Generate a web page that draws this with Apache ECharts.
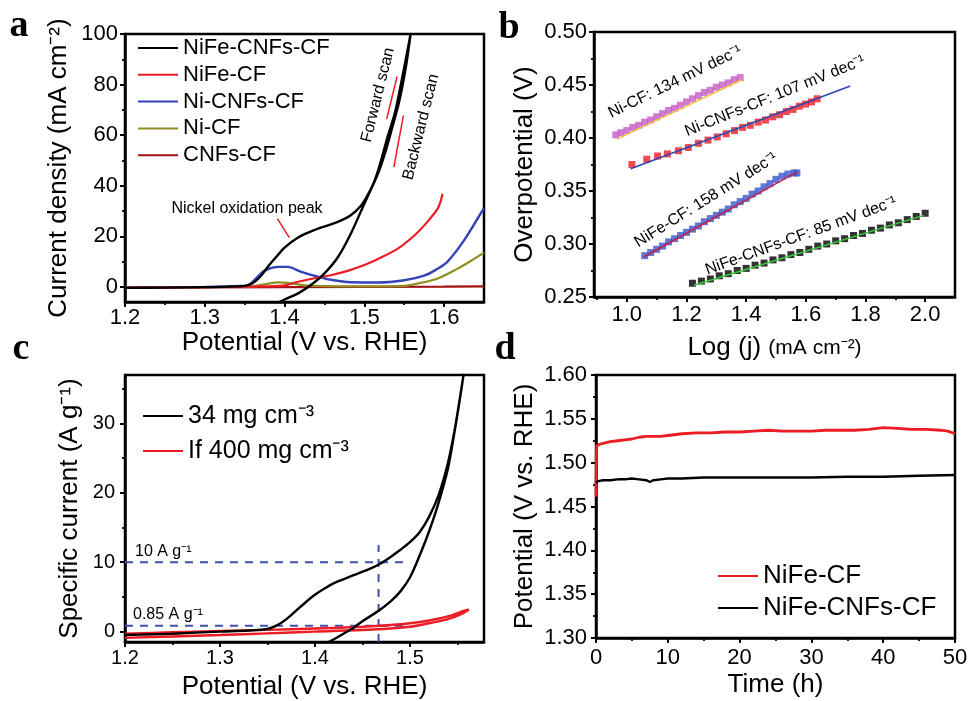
<!DOCTYPE html>
<html>
<head>
<meta charset="utf-8">
<script src="https://cdn.jsdelivr.net/npm/echarts@6/dist/echarts.min.js"></script>
<style>
html, body { margin: 0; padding: 0; background: #fff; }
#main { width: 968px; height: 701px; }
</style>
</head>
<body>
<div id="main"></div>
<script>
// ---------- panel a : polarisation curves [E (V vs RHE), j (mA cm-2)]
var aNiFeCnfs = [
    [1.200, -0.4], [1.250, -0.3], [1.300, -0.1], [1.330, 0.1], [1.350, 0.4], [1.360, 1.4],
    [1.370, 4.2], [1.380, 8.3], [1.390, 12.0], [1.400, 15.5], [1.417, 19.5], [1.437, 22.4],
    [1.458, 24.7], [1.471, 26.3], [1.483, 28.3], [1.496, 32.2], [1.504, 36.2], [1.513, 42.1],
    [1.521, 50.0], [1.529, 59.2], [1.538, 68.4], [1.546, 80.3], [1.554, 93.4], [1.558, 100],
    // backward scan
    [1.552, 86.8], [1.544, 73.7], [1.535, 63.0], [1.527, 54.0], [1.517, 44.7], [1.500, 32.9],
    [1.483, 21.0], [1.467, 11.8], [1.450, 5.3], [1.433, 0.7], [1.417, -2.6], [1.400, -5.0], [1.392, -6.2]
];
var aNiFe = [
    [1.200, -0.3], [1.300, -0.1], [1.360, 0.1], [1.400, 0.6], [1.417, 2.0], [1.442, 3.7],
    [1.458, 4.6], [1.479, 6.3], [1.500, 8.6], [1.521, 11.6], [1.542, 15.1], [1.563, 20.4],
    [1.579, 25.7], [1.592, 30.9], [1.596, 34.2], [1.598, 36.8]
];
var aNiCnfs = [
    [1.200, -0.2], [1.300, 0.0], [1.345, 0.3], [1.354, 0.6], [1.362, 2.6], [1.375, 6.4],
    [1.392, 7.9], [1.404, 7.9], [1.421, 5.9], [1.442, 4.0], [1.458, 2.8], [1.483, 1.8],
    [1.517, 1.7], [1.550, 2.6], [1.575, 4.4], [1.590, 6.8], [1.604, 9.9], [1.625, 18.4],
    [1.647, 29.6], [1.650, 31.0]
];
var aNi = [
    [1.200, -0.3], [1.300, -0.1], [1.360, 0.2], [1.375, 1.0], [1.392, 1.8], [1.404, 1.6],
    [1.425, 0.6], [1.450, 0.3], [1.500, 0.2], [1.550, 0.4], [1.567, 1.3], [1.592, 3.3],
    [1.617, 7.2], [1.635, 10.5], [1.650, 13.5]
];
var aCnfs = [[1.20, -0.3], [1.30, -0.2], [1.40, -0.1], [1.50, 0.0], [1.60, 0.1], [1.65, 0.2]];
// small red pointer strokes
var aPeakPointer = [[1.391, 27.0], [1.406, 19.5]];
var aFwdMark = [[1.528, 66.4], [1.541, 83.2]];
var aBwdMark = [[1.549, 67.8], [1.537, 47.4]];
var aXTicks = [1.2, 1.3, 1.4, 1.5, 1.6];
var aXMinor = [1.25, 1.35, 1.45, 1.55];
var aYTicks = [0, 20, 40, 60, 80, 100];
var aYMinor = [10, 30, 50, 70, 90];

// ---------- panel b : Tafel plots [log j, overpotential V]
var bNiCf = [
    [0.963, 0.403], [0.980, 0.405], [1.000, 0.407], [1.020, 0.410], [1.040, 0.412], [1.060, 0.415],
    [1.080, 0.417], [1.100, 0.420], [1.120, 0.423], [1.140, 0.426], [1.160, 0.428], [1.180, 0.431],
    [1.200, 0.434], [1.220, 0.437], [1.240, 0.440], [1.260, 0.443], [1.280, 0.445], [1.300, 0.448],
    [1.320, 0.450], [1.340, 0.452], [1.360, 0.455], [1.380, 0.457]
];
var bNiCnfs = [
    [1.017, 0.375], [1.067, 0.380], [1.103, 0.383], [1.136, 0.385], [1.173, 0.388], [1.206, 0.391],
    [1.240, 0.395], [1.272, 0.398], [1.303, 0.401], [1.333, 0.404], [1.361, 0.407], [1.388, 0.410],
    [1.414, 0.412], [1.440, 0.415], [1.465, 0.417], [1.489, 0.420], [1.512, 0.422], [1.535, 0.425],
    [1.557, 0.427], [1.578, 0.430], [1.599, 0.432], [1.619, 0.434], [1.638, 0.437]
];
var bNiFeCf = [
    [1.06, 0.289], [1.08, 0.292], [1.10, 0.295], [1.12, 0.298], [1.14, 0.302], [1.16, 0.305],
    [1.18, 0.308], [1.20, 0.311], [1.22, 0.314], [1.24, 0.317], [1.26, 0.321], [1.28, 0.324],
    [1.30, 0.327], [1.32, 0.330], [1.34, 0.333], [1.36, 0.337], [1.38, 0.340], [1.40, 0.343],
    [1.42, 0.347], [1.44, 0.350], [1.46, 0.354], [1.48, 0.357], [1.50, 0.361], [1.52, 0.364],
    [1.54, 0.366], [1.56, 0.367], [1.57, 0.367]
];
var bNiFeCnfs = [
    [1.22, 0.263], [1.25, 0.265], [1.28, 0.267], [1.31, 0.270], [1.34, 0.272], [1.37, 0.275],
    [1.40, 0.277], [1.43, 0.280], [1.46, 0.282], [1.49, 0.285], [1.52, 0.287], [1.55, 0.290],
    [1.58, 0.292], [1.61, 0.295], [1.64, 0.298], [1.67, 0.300], [1.70, 0.303], [1.73, 0.305],
    [1.76, 0.308], [1.79, 0.310], [1.82, 0.313], [1.85, 0.315], [1.88, 0.318], [1.91, 0.320],
    [1.94, 0.323], [1.97, 0.326], [2.00, 0.329]
];
// linear fits
var bFitNiCf = [[0.967, 0.399], [1.385, 0.455]];
var bFitNiCnfs = [[1.013, 0.371], [1.749, 0.449]];
var bFitNiFeCf = [[1.058, 0.288], [1.571, 0.368]];
var bFitNiFeCnfs = [[1.225, 0.261], [1.995, 0.327]];
var bXTicks = [1.0, 1.2, 1.4, 1.6, 1.8, 2.0];
var bXMinor = [0.9, 1.1, 1.3, 1.5, 1.7, 1.9];
var bYTicks = [0.25, 0.30, 0.35, 0.40, 0.45, 0.50];
var bYMinor = [0.275, 0.325, 0.375, 0.425, 0.475];

// ---------- panel c : specific current [E (V vs RHE), A g-1]
var c34 = [
    [1.200, -0.5], [1.250, -0.3], [1.300, 0.0], [1.330, 0.15], [1.350, 0.4], [1.360, 0.9],
    [1.370, 1.8], [1.380, 3.0], [1.390, 4.2], [1.400, 5.3], [1.410, 6.2], [1.420, 7.0],
    [1.440, 8.1], [1.460, 9.2], [1.470, 9.9], [1.480, 10.8], [1.490, 11.8], [1.500, 12.9],
    [1.510, 14.3], [1.520, 16.5], [1.530, 19.6], [1.540, 24.3], [1.547, 29.0], [1.553, 34.0], [1.557, 37.5],
    // backward
    [1.552, 33.0], [1.546, 28.0], [1.540, 23.5], [1.530, 18.5], [1.520, 14.4], [1.510, 10.9],
    [1.500, 7.8], [1.490, 5.8], [1.480, 4.4], [1.467, 3.0], [1.450, 1.5], [1.440, 0.5],
    [1.430, -0.3], [1.420, -1.1], [1.410, -1.8]
];
var c400 = [
    [1.200, -0.3], [1.250, -0.1], [1.300, 0.1], [1.350, 0.25], [1.400, 0.45], [1.450, 0.7],
    [1.480, 0.95], [1.500, 1.2], [1.520, 1.6], [1.540, 2.2], [1.555, 2.9], [1.562, 3.2],
    [1.555, 2.6], [1.540, 1.8], [1.520, 1.2], [1.500, 0.7], [1.460, 0.3], [1.400, 0.0],
    [1.350, -0.25], [1.300, -0.5], [1.250, -0.7], [1.200, -0.9]
];
var cGuide10 = [[1.2, 10], [1.494, 10]];
var cGuide085 = [[1.2, 0.85], [1.494, 0.85]];
var cGuideE = [[1.467, -1.5], [1.467, 12.5]];
var cXTicks = [1.2, 1.3, 1.4, 1.5];
var cXMinor = [1.25, 1.35, 1.45, 1.55];
var cYTicks = [0, 10, 20, 30];
var cYMinor = [5, 15, 25, 35];

// ---------- panel d : chronopotentiometry [t (h), E (V vs RHE)]
var dNiFe = [
    [0, 1.461], [0.05, 1.519], [0.5, 1.521], [1, 1.522], [2, 1.524], [3, 1.525], [4, 1.526],
    [5, 1.527], [6, 1.529], [7, 1.530], [8, 1.530], [9, 1.530], [10, 1.531], [12, 1.533],
    [14, 1.534], [16, 1.534], [18, 1.535], [20, 1.535], [22, 1.536], [24, 1.537], [26, 1.536],
    [28, 1.536], [30, 1.536], [32, 1.537], [34, 1.537], [36, 1.537], [38, 1.538], [40, 1.540],
    [42, 1.539], [44, 1.538], [46, 1.538], [48, 1.537], [49, 1.536], [50, 1.533]
];
var dNiFeCnfs = [
    [0, 1.477], [0.3, 1.479], [1, 1.480], [2, 1.480], [3, 1.481], [4, 1.481], [5, 1.482],
    [6, 1.481], [7, 1.480], [7.5, 1.478], [8, 1.480], [9, 1.481], [10, 1.482], [12, 1.482],
    [15, 1.483], [18, 1.483], [20, 1.483], [25, 1.483], [30, 1.483], [35, 1.484], [40, 1.484],
    [45, 1.485], [50, 1.486]
];
var dXTicks = [0, 10, 20, 30, 40, 50];
var dXMinor = [5, 15, 25, 35, 45];
var dYTicks = [1.30, 1.35, 1.40, 1.45, 1.50, 1.55, 1.60];
var dYMinor = [1.325, 1.375, 1.425, 1.475, 1.525, 1.575];

var FONT = '"Liberation Sans", Arial, sans-serif';
var SERIF = '"Liberation Serif", "Times New Roman", serif';

function mainAxis(dim, grid, min, max, ticks, digits, name, gap, size, margin) {
    return {
        type: 'value', gridIndex: grid, min: min, max: max,
        position: dim === 'x' ? 'bottom' : 'left',
        name: name, nameLocation: 'middle', nameGap: gap,
        nameTextStyle: { fontFamily: FONT, fontSize: 26, color: '#000' },
        axisLine: { show: true, onZero: false, lineStyle: { color: '#000', width: 2.5 } },
        axisTick: { show: true, customValues: ticks, length: 5, lineStyle: { color: '#000', width: 2 } },
        axisLabel: {
            show: true, customValues: ticks, margin: margin, fontFamily: FONT, fontSize: size, color: '#000',
            formatter: function (v) { return v.toFixed(digits); }
        },
        splitLine: { show: false }
    };
}
function minorAxis(dim, grid, min, max, ticks) {
    return {
        type: 'value', gridIndex: grid, min: min, max: max,
        position: dim === 'x' ? 'bottom' : 'left',
        axisLine: { show: false, onZero: false },
        axisTick: { show: true, customValues: ticks, length: 3, lineStyle: { color: '#000', width: 1.8 } },
        axisLabel: { show: false },
        splitLine: { show: false }
    };
}
function curve(name, data, color, idx, width, smooth) {
    return {
        type: 'line', name: name, data: data, xAxisIndex: idx, yAxisIndex: idx,
        symbol: 'none', smooth: smooth, lineStyle: { color: color, width: width },
        itemStyle: { color: color }, z: 3, silent: true
    };
}
function dashed(name, data) {
    return {
        type: 'line', name: name, data: data, xAxisIndex: 2, yAxisIndex: 2, symbol: 'none',
        lineStyle: { color: '#3f4fb0', width: 2, type: [8, 7] }, z: 2, silent: true
    };
}
function dots(name, data, color) {
    return {
        type: 'scatter', name: name, data: data, xAxisIndex: 1, yAxisIndex: 1,
        symbol: 'rect', symbolSize: 7, itemStyle: { color: color }, z: 2, silent: true
    };
}
function label(text, x, y, size, deg, align) {
    return {
        type: 'text', x: x, y: y, rotation: (deg || 0) * Math.PI / 180, z: 10,
        style: { text: text, fontFamily: FONT, fontSize: size, fill: '#000',
                 align: align || 'center', verticalAlign: 'middle' }
    };
}
function letter(text, x, y) {
    return {
        type: 'text', x: x, y: y, z: 10,
        style: { text: text, fontFamily: SERIF, fontSize: 38, fontWeight: 'bold', fill: '#000',
                 align: 'center', verticalAlign: 'middle' }
    };
}

// legend shows a plain line, the marker circle is hidden
var legendBase = {
    orient: 'vertical', padding: 0, itemWidth: 40, selectedMode: false,
    itemStyle: { opacity: 0 }
};

var chart = echarts.init(document.getElementById('main'), null, { renderer: 'canvas' });
chart.setOption({
    animation: false,
    backgroundColor: '#fff',
    grid: [
        { left: 125, top: 34, width: 359, height: 268 },
        { left: 594, top: 32, width: 361, height: 265 },
        { left: 125, top: 375, width: 359, height: 267 },
        { left: 596, top: 375, width: 359, height: 263 }
    ].map(function (g) {
        g.show = true; g.borderColor = '#000'; g.borderWidth = 2.5;
        g.containLabel = false; g.outerBoundsMode = 'none';
        return g;
    }),
    xAxis: [
        mainAxis('x', 0, 1.2, 1.65, aXTicks, 1, 'Potential (V vs. RHE)', 24, 22, 5),
        mainAxis('x', 1, 0.89, 2.1, bXTicks, 1, '{a|Log (j)} {b|(mA cm⁻²)}', 38, 22, 7),
        mainAxis('x', 2, 1.2, 1.578, cXTicks, 1, 'Potential (V vs. RHE)', 32, 20, 6),
        mainAxis('x', 3, 0, 50, dXTicks, 0, 'Time (h)', 34, 22, 9),
        minorAxis('x', 0, 1.2, 1.65, aXMinor),
        minorAxis('x', 1, 0.89, 2.1, bXMinor),
        minorAxis('x', 2, 1.2, 1.578, cXMinor),
        minorAxis('x', 3, 0, 50, dXMinor)
    ],
    yAxis: [
        mainAxis('y', 0, -6, 100, aYTicks, 0, 'Current density (mA cm⁻²)', 53, 22, 7),
        mainAxis('y', 1, 0.25, 0.50, bYTicks, 2, 'Overpotential (V)', 56, 22, 7),
        mainAxis('y', 2, -1.5, 37, cYTicks, 0, 'Specific current (A g⁻¹)', 42, 20, 10),
        mainAxis('y', 3, 1.30, 1.60, dYTicks, 2, 'Potential (V vs. RHE)', 58, 22, 9),
        minorAxis('y', 0, -6, 100, aYMinor),
        minorAxis('y', 1, 0.25, 0.50, bYMinor),
        minorAxis('y', 2, -1.5, 37, cYMinor),
        minorAxis('y', 3, 1.30, 1.60, dYMinor)
    ],
    legend: [
        Object.assign({}, legendBase, {
            data: ['NiFe-CNFs-CF', 'NiFe-CF', 'Ni-CNFs-CF', 'Ni-CF', 'CNFs-CF'],
            left: 137, top: 37, itemHeight: 20, itemGap: 4.8,
            textStyle: { fontFamily: FONT, fontSize: 22, color: '#000', lineHeight: 20 }
        }),
        Object.assign({}, legendBase, {
            data: ['34 mg cm⁻³', 'If 400 mg cm⁻³'],
            left: 142, top: 403, itemHeight: 26, itemGap: 9,
            textStyle: { fontFamily: FONT, fontSize: 25, color: '#000', lineHeight: 26 }
        }),
        Object.assign({}, legendBase, {
            data: ['NiFe-CF', 'NiFe-CNFs-CF'],
            left: 717, top: 563, itemHeight: 26, itemGap: 6,
            textStyle: { fontFamily: FONT, fontSize: 26, color: '#000', lineHeight: 26 }
        })
    ],
    series: [
        // a
        curve('CNFs-CF', aCnfs, '#a11212', 0, 2.2, false),
        curve('Ni-CF', aNi, '#8f8f1f', 0, 2.2, 0.3),
        curve('Ni-CNFs-CF', aNiCnfs, '#3444b8', 0, 2.4, 0.3),
        curve('NiFe-CF', aNiFe, '#ec1c24', 0, 2.2, 0.3),
        curve('NiFe-CNFs-CF', aNiFeCnfs, '#000000', 0, 2.4, 0.3),
        curve('a-pointer', aPeakPointer, '#ec1c24', 0, 1.5, false),
        curve('a-fwd', aFwdMark, '#ec1c24', 0, 1.5, false),
        curve('a-bwd', aBwdMark, '#ec1c24', 0, 1.5, false),
        // b
        dots('b-Ni-CF', bNiCf, '#c35bc6'),
        dots('b-Ni-CNFs-CF', bNiCnfs, '#ec1c24'),
        dots('b-NiFe-CF', bNiFeCf, '#3a55c8'),
        dots('b-NiFe-CNFs-CF', bNiFeCnfs, '#000000'),
        curve('b-fit1', bFitNiCf, '#f2c040', 1, 1.5, false),
        curve('b-fit2', bFitNiCnfs, '#2f45b5', 1, 1.5, false),
        curve('b-fit3', bFitNiFeCf, '#c2204a', 1, 1.5, false),
        curve('b-fit4', bFitNiFeCnfs, '#3ecb3e', 1, 1.5, false),
        // c
        dashed('c-g10', cGuide10),
        dashed('c-g085', cGuide085),
        dashed('c-gE', cGuideE),
        curve('If 400 mg cm⁻³', c400, '#ec1c24', 2, 2.4, 0.3),
        curve('34 mg cm⁻³', c34, '#000000', 2, 2.4, 0.3),
        // d
        curve('NiFe-CF', dNiFe, '#ec1c24', 3, 2.8, false),
        curve('NiFe-CNFs-CF', dNiFeCnfs, '#000000', 3, 2.4, false)
    ],
    graphic: [
        letter('a', 19, 26),
        letter('b', 509, 28),
        letter('c', 21, 349),
        letter('d', 505, 349),
        label('Nickel oxidation peak', 247, 209, 16),
        label('Forward scan', 378, 95, 16, 76),
        label('Backward scan', 421, 127, 16, 76),
        label('Ni-CF: 134 mV dec⁻¹', 675, 82, 16, 26),
        label('Ni-CNFs-CF: 107 mV dec⁻¹', 775, 96, 16, 22),
        label('NiFe-CF: 158 mV dec⁻¹', 706, 200, 16, 32),
        label('NiFe-CNFs-CF: 85 mV dec⁻¹', 801, 236, 16, 20),
        label('10 A g⁻¹', 135, 552, 16, 0, 'left'),
        label('0.85 A g⁻¹', 133, 615, 16, 0, 'left')
    ]
});
// rich text for the log axis name
chart.setOption({
    xAxis: [{}, {
        nameTextStyle: {
            fontFamily: FONT, color: '#000',
            rich: {
                a: { fontFamily: FONT, fontSize: 26, color: '#000' },
                b: { fontFamily: FONT, fontSize: 21, color: '#000' }
            }
        }
    }]
});
</script>
</body>
</html>
